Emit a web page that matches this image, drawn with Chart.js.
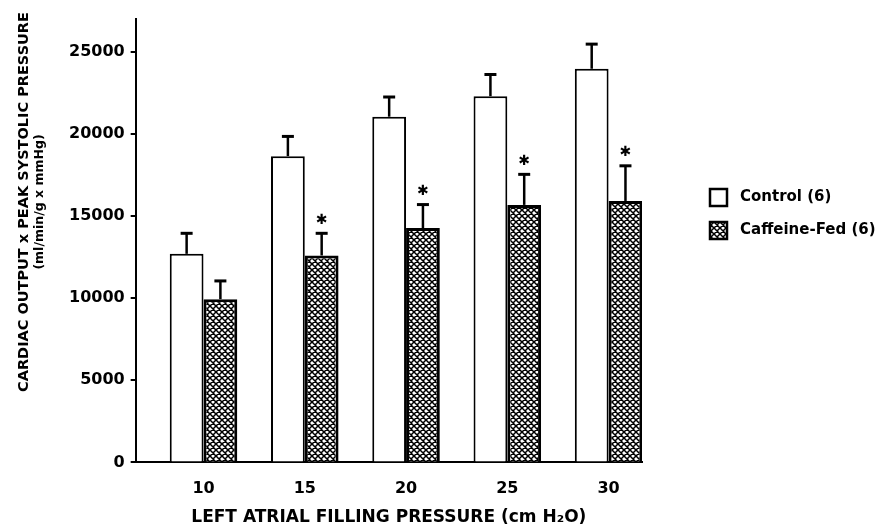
<!DOCTYPE html>
<html>
<head>
<meta charset="utf-8">
<script src="https://cdn.jsdelivr.net/npm/chart.js@4.4.1/dist/chart.umd.min.js"></script>
<style>
  html, body { margin: 0; padding: 0; background: #fff; }
</style>
</head>
<body>
<canvas id="chart" width="884" height="529"></canvas>
<script>
const pressures = [10, 15, 20, 25, 30];
const controlMeans = [12700, 18650, 21050, 22300, 23970];
const controlErrors = [1250, 1200, 1200, 1320, 1500];
const caffeineMeans = [9940, 12600, 14270, 15680, 15920];
const caffeineErrors = [1110, 1350, 1430, 1860, 2140];
const caffeineStars = [false, true, true, true, true];
const yTicks = [0, 5000, 10000, 15000, 20000, 25000];
const yTitle = ['CARDIAC OUTPUT x PEAK SYSTOLIC PRESSURE', '(ml/min/g x mmHg)'];
const xTitle = 'LEFT ATRIAL FILLING PRESSURE (cm H\u2082O)';

const FONT = '"DejaVu Sans", sans-serif';
const ctx = document.getElementById('chart').getContext('2d');

// cross hatch fill for the caffeine bars
function crossHatch() {
    const size = 6;
    const c = document.createElement('canvas');
    c.width = size;
    c.height = size;
    const g = c.getContext('2d');
    g.fillStyle = '#fff';
    g.fillRect(0, 0, size, size);
    g.strokeStyle = '#000';
    g.lineWidth = 1.5;
    g.beginPath();
    for (let k = -1; k <= 1; k++) {
        const o = k * size;
        g.moveTo(o - 1, -1); g.lineTo(o + size + 1, size + 1);
        g.moveTo(o + size + 1, -1); g.lineTo(o - 1, size + 1);
    }
    g.stroke();
    return ctx.createPattern(c, 'repeat');
}
const hatch = crossHatch();

const errorBars = {
    id: 'errorBars',
    afterDatasetsDraw(chart) {
        const c = chart.ctx;
        const y = chart.scales.y;
        c.save();
        c.strokeStyle = '#000';
        c.fillStyle = '#000';
        chart.data.datasets.forEach((ds, di) => {
            chart.getDatasetMeta(di).data.forEach((bar, i) => {
                const top = y.getPixelForValue(ds.data[i].y + ds.errors[i]);
                c.lineWidth = 2.5;
                c.beginPath();
                c.moveTo(bar.x, bar.y);
                c.lineTo(bar.x, top);
                c.stroke();
                c.lineWidth = 3;
                c.beginPath();
                c.moveTo(bar.x - 6, top);
                c.lineTo(bar.x + 6, top);
                c.stroke();
                if (ds.stars && ds.stars[i]) {
                    c.font = 'bold 14px ' + FONT;
                    c.textAlign = 'center';
                    c.textBaseline = 'middle';
                    c.fillText('\u2731', bar.x, top - 13);
                }
            });
        });
        c.restore();
    }
};

const sideTexts = {
    id: 'sideTexts',
    afterDraw(chart) {
        const c = chart.ctx;
        c.save();
        c.fillStyle = '#000';
        c.textAlign = 'center';
        c.textBaseline = 'middle';
        // y axis title, two lines
        c.translate(24, 202);
        c.rotate(-Math.PI / 2);
        c.font = 'bold 14.5px ' + FONT;
        c.fillText(yTitle[0], 0, 0);
        c.font = 'bold 12.5px ' + FONT;
        c.fillText(yTitle[1], 0, 16);
        c.restore();

        // legend
        c.save();
        c.textAlign = 'left';
        c.textBaseline = 'middle';
        c.font = 'bold 15px ' + FONT;
        chart.data.datasets.forEach((ds, i) => {
            const cy = 197 + i * 33;
            c.fillStyle = ds.backgroundColor;
            c.fillRect(710, cy - 8, 17, 17);
            c.strokeStyle = '#000';
            c.lineWidth = 2.5;
            c.strokeRect(710, cy - 8, 17, 17);
            c.fillStyle = '#000';
            c.fillText(ds.label, 740, cy);
        });
        c.restore();
    }
};

const chart = new Chart(ctx, {
    type: 'bar',
    data: {
        datasets: [{
            label: 'Control (6)',
            data: pressures.map((p, i) => ({ x: p, y: controlMeans[i] })),
            errors: controlErrors,
            backgroundColor: '#fff',
            borderColor: '#000',
            borderWidth: 2
        }, {
            label: 'Caffeine-Fed (6)',
            data: pressures.map((p, i) => ({ x: p, y: caffeineMeans[i] })),
            errors: caffeineErrors,
            stars: caffeineStars,
            backgroundColor: hatch,
            borderColor: '#000',
            borderWidth: 3
        }]
    },
    options: {
        responsive: false,
        animation: false,
        categoryPercentage: 0.667,
        barPercentage: 1,
        layout: { padding: { left: 63, right: 242, top: 19, bottom: 1 } },
        plugins: {
            legend: { display: false },
            tooltip: { enabled: false }
        },
        scales: {
            x: {
                type: 'linear',
                min: 6.65,
                max: 31.65,
                offset: false,
                afterBuildTicks: s => { s.ticks = pressures.map(v => ({ value: v })); },
                grid: { display: false },
                border: { display: true, color: '#000', width: 2 },
                ticks: {
                    color: '#000',
                    font: { family: FONT, size: 16, weight: 'bold' },
                    padding: 9,
                    maxRotation: 0,
                    autoSkip: false,
                    callback: v => String(v)
                },
                title: {
                    display: true,
                    text: xTitle,
                    color: '#000',
                    font: { family: FONT, size: 17, weight: 'bold' },
                    padding: { top: 0, bottom: 0 }
                }
            },
            y: {
                min: 0,
                max: 27000,
                afterBuildTicks: s => { s.ticks = yTicks.map(v => ({ value: v })); },
                grid: { drawOnChartArea: false, drawTicks: true, tickLength: 5, color: '#000', lineWidth: 2 },
                border: { color: '#000', width: 2 },
                ticks: {
                    color: '#000',
                    font: { family: FONT, size: 16, weight: 'bold' },
                    padding: 6,
                    callback: v => String(v)
                }
            }
        }
    },
    plugins: [errorBars, sideTexts]
});
</script>
</body>
</html>
